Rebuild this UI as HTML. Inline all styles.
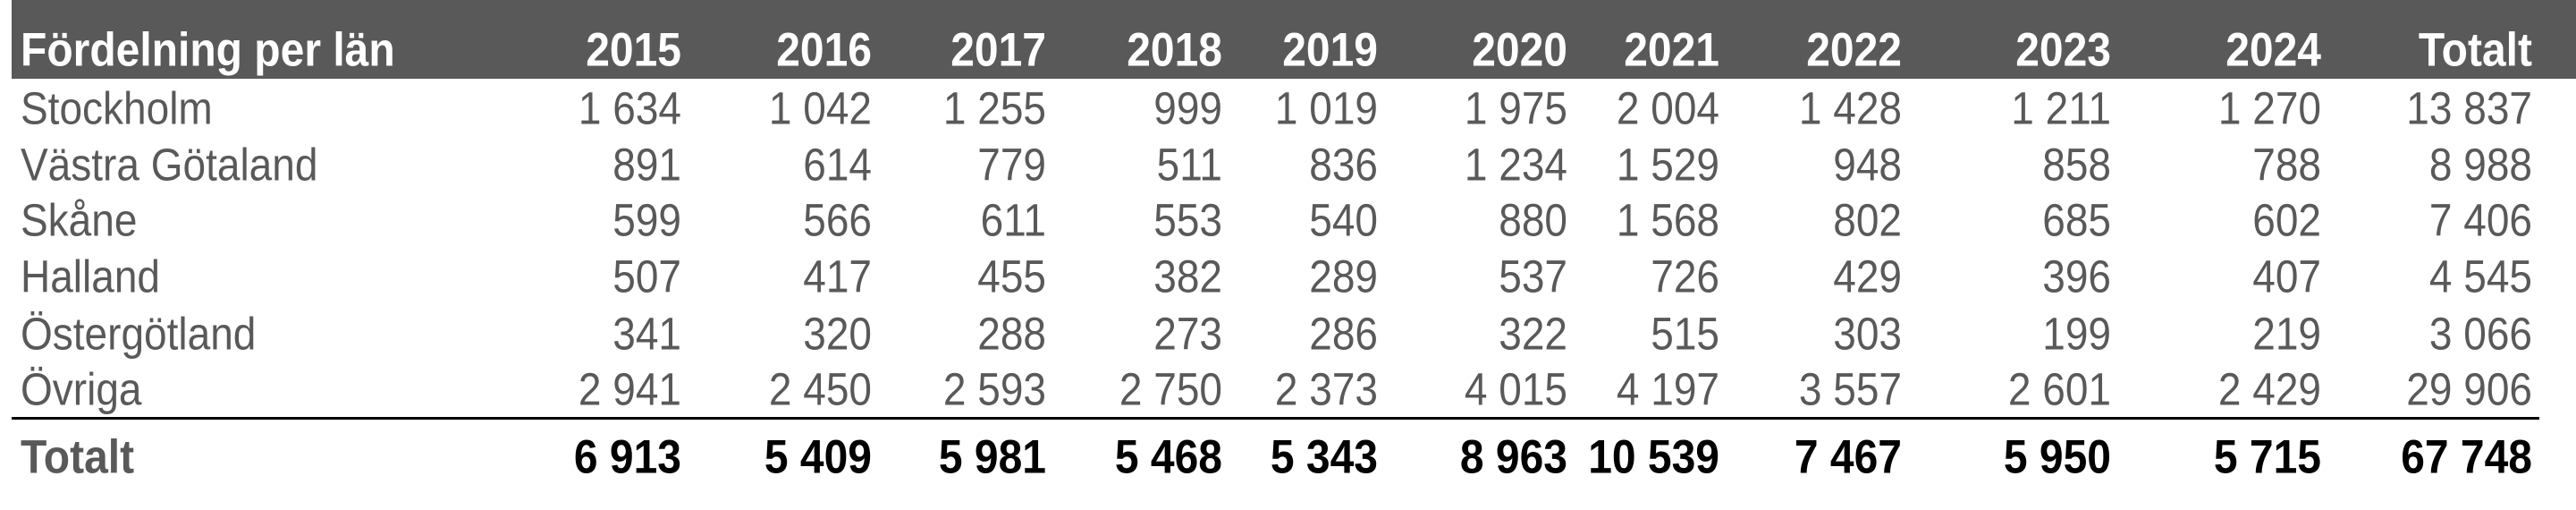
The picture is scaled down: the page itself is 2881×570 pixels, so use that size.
<!DOCTYPE html>
<html><head><meta charset="utf-8"><style>
body{margin:0;width:2881px;height:570px;background:#fff;position:relative;overflow:hidden;font-family:"Liberation Sans",Arial,sans-serif}
.hdr{position:absolute;left:13px;top:0;width:2868px;height:88px;background:#595959}
.t{position:absolute;height:60px;line-height:60px;white-space:nowrap;color:#595959;font-size:46px;transform:scaleY(1.1)}
.h{color:#fff;font-weight:bold;font-size:48px}
.b{font-weight:bold;color:#000;font-size:48px}
.bl{font-weight:bold;color:#595959;font-size:48px}
.r{text-align:right;width:300px}
.line{position:absolute;left:13px;top:466px;width:2827px;height:3px;background:#000}
</style></head><body>
<div class="hdr"></div>
<div class="line"></div>
<div id="c"></div>
<script>
var cols=[762,975,1170,1367,1541,1753,1923,2127,2361,2596,2832];
var rows=[
["Fördelning per län","2015","2016","2017","2018","2019","2020","2021","2022","2023","2024","Totalt",57,"h"],
["Stockholm","1 634","1 042","1 255","999","1 019","1 975","2 004","1 428","1 211","1 270","13 837",121,""],
["Västra Götaland","891","614","779","511","836","1 234","1 529","948","858","788","8 988",184,""],
["Skåne","599","566","611","553","540","880","1 568","802","685","602","7 406",246,""],
["Halland","507","417","455","382","289","537","726","429","396","407","4 545",309,""],
["Östergötland","341","320","288","273","286","322","515","303","199","219","3 066",373,""],
["Övriga","2 941","2 450","2 593","2 750","2 373","4 015","4 197","3 557","2 601","2 429","29 906",435,""],
["Totalt","6 913","5 409","5 981","5 468","5 343","8 963","10 539","7 467","5 950","5 715","67 748",512,"b"]];
var h="";
rows.forEach(function(r){
 var y=r[12]-30,cl=r[13];
 var lc=cl=="b"?"t bl":"t "+cl;
 h+='<div class="'+lc+'" style="left:23px;top:'+y+'px">'+r[0]+'</div>';
 for(var i=0;i<11;i++){h+='<div class="t r '+cl+'" style="left:'+(cols[i]-300)+'px;top:'+y+'px">'+r[i+1]+'</div>';}
});
document.getElementById("c").innerHTML=h;
</script>
</body></html>
